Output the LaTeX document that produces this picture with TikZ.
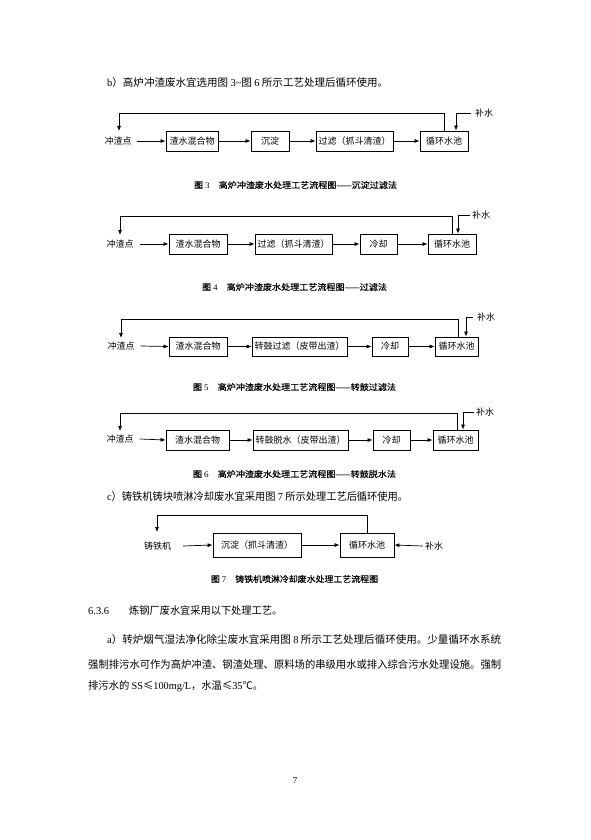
\documentclass[tikz,border=0pt]{standalone}
\usepackage{graphicx}
\usepackage{fontspec}
\setmainfont{Liberation Serif}
\newfontfamily\cjk{Noto Sans CJK SC}
\newfontfamily\cjkb{Noto Sans CJK SC}[FakeBold=0.3]
\usetikzlibrary{arrows.meta}
\newcommand{\en}[1]{{\rmfamily #1}}
\newsavebox\fitbox
\newcommand\fitw[2]{\sbox\fitbox{#2}\pgfmathsetmacro\fitsc{#1/\the\wd\fitbox}\scalebox{\fitsc}[1]{\usebox\fitbox}}
\tikzset{
  pbox/.style={draw, line width=0.8pt, inner sep=0pt, minimum height=20pt, font=\cjk\fontsize{9}{9}\selectfont},
  lbl/.style={inner sep=0pt, font=\cjk\fontsize{9}{9}\selectfont},
  figcap/.style={inner sep=0pt, font=\cjkb\fontsize{8.5}{8.5}\selectfont},
  bodytxt/.style={inner sep=0pt, anchor=west, font=\cjk\fontsize{10.5}{10.5}\selectfont},
  conn/.style={line width=0.7pt, -{Latex[length=5pt,width=4pt]}},
}
\begin{document}
\begin{tikzpicture}[x=1pt,y=-1pt]
\useasboundingbox[fill=white] (0,0) rectangle (591,840);

% heading b
\node[bodytxt] (hb) at (107,83) {\fitw{281}{\en{b}）高炉冲渣废水宜选用图 \en{3\textasciitilde}图 \en{6} 所示工艺处理后循环使用。}};

% ---------- Figure 3
\node[lbl] (p3) at (118,141) {冲渣点};
\node[pbox, minimum width=52pt] (a31) at (192,141) {渣水混合物};
\node[pbox, minimum width=38pt] (a32) at (270,141) {沉淀};
\node[pbox, minimum width=77pt] (a33) at (354.5,141) {过滤（抓斗清渣）};
\node[pbox, minimum width=48pt] (a34) at (444,141) {循环水池};
\node[lbl] (m3) at (484,113) {补水};
\coordinate (t3) at (119,113);
\coordinate (e3) at (119,131);
\draw[conn] ([xshift=5pt]p3.east) -- (a31.west);
\draw[conn] (a31.east) -- (a32.west);
\draw[conn] (a32.east) -- (a33.west);
\draw[conn] (a33.east) -- (a34.west);
\draw[conn] (a34.north) |- (t3) -- (e3);
\draw[conn] ([xshift=-4pt]m3.west) -| ([xshift=12pt]a34.north);
\node[figcap] (c3) at (295.5,185) {\fitw{203}{图 \en{3}\quad 高炉冲渣废水处理工艺流程图——沉淀过滤法}};

% ---------- Figure 4
\node[lbl] (p4) at (120,244) {冲渣点};
\node[pbox, minimum width=58pt] (a41) at (198,244) {渣水混合物};
\node[pbox, minimum width=77pt] (a42) at (293.5,244) {过滤（抓斗清渣）};
\node[pbox, minimum width=37pt] (a43) at (378.5,244) {冷却};
\node[pbox, minimum width=48pt] (a44) at (452,244) {循环水池};
\node[lbl] (m4) at (481,215) {补水};
\coordinate (t4) at (120,216);
\coordinate (e4) at (120,235);
\draw[conn] ([xshift=6pt]p4.east) -- (a41.west);
\draw[conn] (a41.east) -- (a42.west);
\draw[conn] (a42.east) -- (a43.west);
\draw[conn] (a43.east) -- (a44.west);
\draw[conn] (a44.north) |- (t4) -- (e4);
\draw[conn] ([xshift=-2pt]m4.west) -| ([xshift=6pt]a44.north);
\node[figcap] (c4) at (294.5,287) {\fitw{185}{图 \en{4}\quad 高炉冲渣废水处理工艺流程图——过滤法}};

% ---------- Figure 5
\node[lbl] (p5) at (121,346) {冲渣点};
\node[pbox, minimum width=58pt, minimum height=19pt] (a51) at (198,346.5) {渣水混合物};
\node[pbox, minimum width=95pt, minimum height=19pt] (a52) at (299.5,346.5) {转鼓过滤（皮带出渣）};
\node[pbox, minimum width=36pt, minimum height=19pt] (a53) at (390,346.5) {冷却};
\node[pbox, minimum width=43pt, minimum height=19pt] (a54) at (456.5,346.5) {循环水池};
\node[lbl] (m5) at (486,317) {补水};
\coordinate (t5) at (121,319);
\coordinate (e5) at (121,338);
\draw[conn] ([xshift=6pt]p5.east) -- (a51.west);
\draw[conn] (a51.east) -- (a52.west);
\draw[conn] (a52.east) -- (a53.west);
\draw[conn] (a53.east) -- (a54.west);
\draw[conn] ([xshift=1.5pt]a54.north) |- (t5) -- (e5);
\draw[conn] ([xshift=-4pt]m5.west) -| ([xshift=9.5pt]a54.north);
\node[figcap] (c5) at (294.5,387) {\fitw{203}{图 \en{5}\quad 高炉冲渣废水处理工艺流程图——转鼓过滤法}};

% ---------- Figure 6
\node[lbl] (p6) at (120,439) {冲渣点};
\node[pbox, minimum width=63pt] (a61) at (197.5,440) {渣水混合物};
\node[pbox, minimum width=95pt] (a62) at (300.5,440) {转鼓脱水（皮带出渣）};
\node[pbox, minimum width=37pt] (a63) at (391.5,440) {冷却};
\node[pbox, minimum width=45pt] (a64) at (455.5,440) {循环水池};
\node[lbl] (m6) at (485,412) {补水};
\coordinate (t6) at (120,413);
\coordinate (e6) at (120,431);
\draw[conn] ([xshift=6pt]p6.east) -- (a61.west);
\draw[conn] (a61.east) -- (a62.west);
\draw[conn] (a62.east) -- (a63.west);
\draw[conn] (a63.east) -- (a64.west);
\draw[conn] ([xshift=1.5pt]a64.north) |- (t6) -- (e6);
\draw[conn] ([xshift=-2pt]m6.west) -| ([xshift=7.5pt]a64.north);
\node[figcap] (c6) at (294.5,474) {\fitw{203}{图 \en{6}\quad 高炉冲渣废水处理工艺流程图——转鼓脱水法}};

% heading c
\node[bodytxt] (hc) at (107,497) {\fitw{301}{\en{c}）铸铁机铸块喷淋冷却废水宜采用图 \en{7} 所示处理工艺后循环使用。}};

% ---------- Figure 7
\node[lbl] (p7) at (157.5,546) {铸铁机};
\node[pbox, minimum width=88pt, minimum height=24pt] (a71) at (257,545) {沉淀（抓斗清渣）};
\node[pbox, minimum width=54pt, minimum height=24pt] (a72) at (367,545) {循环水池};
\node[lbl] (m7) at (434,546) {补水};
\coordinate (t7) at (157,515);
\coordinate (e7) at (157,532);
\draw[conn] ([xshift=12pt]p7.east) -- (a71.west);
\draw[conn] (a71.east) -- (a72.west);
\draw[conn] (a72.north) |- (t7) -- (e7);
\draw[conn] ([xshift=-2pt]m7.west) -- (a72.east);
\node[figcap] (c7) at (294.5,579) {\fitw{167}{图 \en{7}\quad 铸铁机喷淋冷却废水处理工艺流程图}};

% ---------- body text
\node[bodytxt, font=\rmfamily\fontsize{10.5}{10.5}\selectfont] (s636) at (88,611) {6.3.6};
\node[bodytxt] (s636t) at (129,611) {\fitw{153}{炼钢厂废水宜采用以下处理工艺。}};
\node[bodytxt] (l1) at (107,640) {\fitw{394}{\en{a}）转炉烟气湿法净化除尘废水宜采用图 \en{8} 所示工艺处理后循环使用。少量循环水系统}};
\node[bodytxt] (l2) at (88,665) {\fitw{413}{强制排污水可作为高炉冲渣、钢渣处理、原料场的串级用水或排入综合污水处理设施。强制}};
\node[bodytxt] (l3) at (88,686) {\fitw{175}{排污水的 \en{SS}≤\en{100mg/L}，水温≤\en{35}℃。}};
\node[inner sep=0pt, font=\rmfamily\fontsize{9}{9}\selectfont] (pg) at (295,781) {7};
\end{tikzpicture}
\end{document}
